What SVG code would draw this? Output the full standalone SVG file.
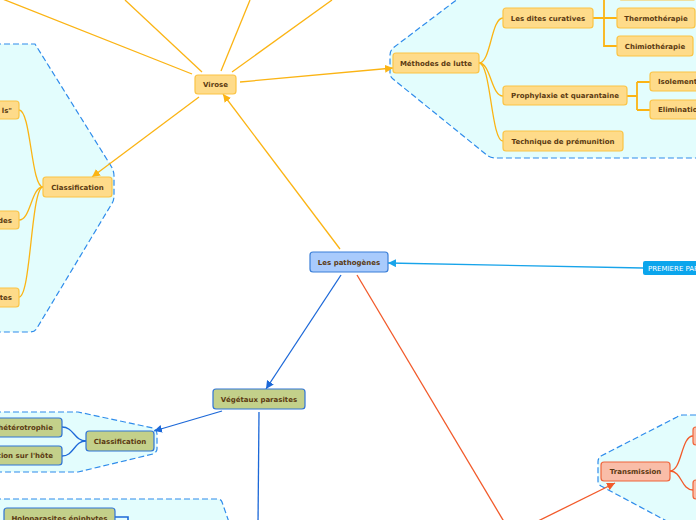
<svg xmlns="http://www.w3.org/2000/svg" width="696" height="520" viewBox="0 0 696 520">
<defs>
<marker id="aO" markerUnits="userSpaceOnUse" markerWidth="10" markerHeight="10" refX="8" refY="4" orient="auto"><path d="M0,0 L8,4 L0,8 Z" fill="#fbb414"/></marker>
<marker id="aB" markerUnits="userSpaceOnUse" markerWidth="10" markerHeight="10" refX="8" refY="4" orient="auto"><path d="M0,0 L8,4 L0,8 Z" fill="#1c68d8"/></marker>
<marker id="aL" markerUnits="userSpaceOnUse" markerWidth="10" markerHeight="10" refX="8" refY="4" orient="auto"><path d="M0,0 L8,4 L0,8 Z" fill="#18a4ea"/></marker>
<marker id="aR" markerUnits="userSpaceOnUse" markerWidth="10" markerHeight="10" refX="8" refY="4" orient="auto"><path d="M0,0 L8,4 L0,8 Z" fill="#f25a2a"/></marker>
</defs>
<style>
.bd{fill:#e3fdfd;stroke:#2f8ceb;stroke-width:1.2;stroke-dasharray:6,3}
.o rect{fill:#fedb8a;stroke:#fbc445;stroke-width:1.2}
.g rect{fill:#c3d08a;stroke:#2f74d6;stroke-width:1.2}
.r rect{fill:#f9bda8;stroke:#f0643a;stroke-width:1.2}
.b rect{fill:#a9cbfc;stroke:#3a7fd8;stroke-width:1.2}
text{font-family:"DejaVu Sans","Verdana",sans-serif;font-size:7px;font-weight:bold;fill:#5b3a12}
.c text{text-anchor:middle}
.e text{text-anchor:end}
.co{fill:none;stroke:#fbb414;stroke-width:1.3}
.cb{fill:none;stroke:#1c68d8;stroke-width:1.3}
.cr{fill:none;stroke:#f25a2a;stroke-width:1.3}
.cl{fill:none;stroke:#18a4ea;stroke-width:1.3}
</style>
<rect width="696" height="520" fill="#ffffff"/>
<g id="boundaries">
<path class="bd" d="M-5,44 L35,44 L111,166 Q114,171 114,176 L114,196 Q114,201 111,205 L37,328 Q35,332 30,332 L-5,332 Z"/>
<path class="bd" d="M463,-5 L393,48 Q390,51 390,55 L390,73 Q390,77 393,79 L488,156 Q491,158 495,158 L705,158 L705,-5 Z"/>
<path class="bd" d="M-5,412 L78,412 L153,428 Q157,430 157,434 L157,449 Q157,452 153,454 L78,472 L-5,472 Z"/>
<path class="bd" d="M-5,499 L217,499 Q221,499 222,502 L230,525 L-5,525 Z"/>
<path class="bd" d="M705,415 L683,415 Q680,415 677,417 L601,456 Q598,458 598,462 L598,481 Q598,484 601,486 L676,526 L705,526 Z"/>
</g>
<g id="connectors">
<line class="co" x1="0" y1="-2" x2="192" y2="74"/>
<line class="co" x1="125" y1="0" x2="202" y2="72"/>
<line class="co" x1="250" y1="0" x2="221" y2="71"/>
<line class="co" x1="332" y1="0" x2="232" y2="72"/>
<line class="co" x1="240" y1="82" x2="393" y2="68" marker-end="url(#aO)"/>
<line class="co" x1="199" y1="97" x2="92" y2="177" marker-end="url(#aO)"/>
<line class="co" x1="340" y1="249" x2="223" y2="94" marker-end="url(#aO)"/>
<path class="co" d="M43,187 C31,187 31,110 19,110"/>
<path class="co" d="M43,187 C31,187 31,220 19,220"/>
<path class="co" d="M43,187 C31,187 31,297 19,297"/>
<path class="co" d="M479,63 C491,63 491,18 503,18"/>
<path class="co" d="M479,63 C491,63 491,96 503,96"/>
<path class="co" d="M479,63 C491,63 491,141 503,141"/>
<path class="co" style="stroke-width:1.8" d="M593,18 L604,18 M604,-10 L604,46 L617,46 M604,18 L617,18 M604,-10 L619,-10"/>
<path class="co" style="stroke-width:1.8" d="M627,96 L637,96 M637,82 L637,110 M637,82 L650,82 M637,110 L650,110"/>
<line class="cl" x1="643" y1="268" x2="388" y2="263" marker-end="url(#aL)"/>
<line class="cb" x1="341" y1="275" x2="266" y2="389" marker-end="url(#aB)"/>
<line class="cb" x1="222" y1="411" x2="154" y2="431" marker-end="url(#aB)"/>
<line class="cb" x1="259" y1="412" x2="258" y2="525"/>
<path class="cb" d="M86,441 C74,441 74,427 62,427"/>
<path class="cb" d="M86,441 C74,441 74,456 62,456"/>
<path class="cb" style="stroke-width:1.6" d="M115,517 L128,517 L128,525"/>
<line class="cr" x1="357" y1="275" x2="506" y2="525"/>
<line class="cr" x1="530" y1="525" x2="615" y2="483" marker-end="url(#aR)"/>
<path class="cr" d="M670,471 C682,471 681,436 693,436"/>
<path class="cr" d="M670,471 C682,471 681,490 693,490"/>
</g>
<g id="n-virose" class="o c"><rect x="195" y="75" width="41" height="19" rx="3"/><text x="215.5" y="87">Virose</text></g>
<g id="n-methodes" class="o c"><rect x="393" y="53" width="86" height="20" rx="3"/><text x="436" y="65.5">Méthodes de lutte</text></g>
<g id="n-curatives" class="o c"><rect x="503" y="8" width="90" height="20" rx="3"/><text x="548" y="20.5">Les dites curatives</text></g>
<g id="n-top" class="o c"><rect x="619" y="-20" width="77" height="20" rx="3"/></g>
<g id="n-thermo" class="o c"><rect x="617" y="8" width="78" height="20" rx="3"/><text x="656" y="20.5">Thermothérapie</text></g>
<g id="n-chimio" class="o c"><rect x="617" y="36" width="76" height="20" rx="3"/><text x="655" y="48.5">Chimiothérapie</text></g>
<g id="n-prophylaxie" class="o c"><rect x="503" y="86" width="124" height="19" rx="3"/><text x="565" y="98">Prophylaxie et quarantaine</text></g>
<g id="n-technique" class="o c"><rect x="503" y="131" width="120" height="20" rx="3"/><text x="563" y="143.5">Technique de prémunition</text></g>
<g id="n-isolement" class="o"><rect x="650" y="72" width="60" height="19" rx="3"/><text x="658" y="84">Isolement</text></g>
<g id="n-elimination" class="o"><rect x="650" y="100" width="60" height="19" rx="3"/><text x="658" y="112">Elimination</text></g>
<g id="n-classif-v" class="o c"><rect x="43" y="177" width="69" height="20" rx="3"/><text x="77.5" y="189.5">Classification</text></g>
<g id="n-v1" class="o e"><rect x="-40" y="101" width="59" height="18" rx="3"/><text x="12" y="112.5">ls"</text></g>
<g id="n-v2" class="o e"><rect x="-40" y="211" width="59" height="18" rx="3"/><text x="12" y="222.5">des</text></g>
<g id="n-v3" class="o e"><rect x="-40" y="288" width="59" height="19" rx="3"/><text x="12" y="300">tes</text></g>
<g id="n-pathogenes" class="b c"><rect x="310" y="252" width="78" height="20" rx="3"/><text x="349" y="264.5">Les pathogènes</text></g>
<g id="n-premiere"><rect x="643" y="261" width="70" height="14" rx="2" fill="#0ba5ec"/><text x="648" y="270.5" style="fill:#ffffff;font-weight:normal">PREMIERE PARTIE</text></g>
<g id="n-vegetaux" class="g c"><rect x="213" y="389" width="92" height="20" rx="3"/><text x="259" y="401.5">Végétaux parasites</text></g>
<g id="n-classif-g" class="g c"><rect x="86" y="431" width="68" height="20" rx="3"/><text x="120" y="443.5">Classification</text></g>
<g id="n-g1" class="g e"><rect x="-40" y="418" width="102" height="19" rx="3"/><text x="53" y="430">hétérotrophie</text></g>
<g id="n-g2" class="g e"><rect x="-40" y="446" width="102" height="19" rx="3"/><text x="53" y="458">tion sur l'hôte</text></g>
<g id="n-holo" class="g c"><rect x="4" y="508" width="111" height="20" rx="3"/><text x="59.5" y="520.5">Holoparasites épiphytes</text></g>
<g id="n-transmission" class="r c"><rect x="601" y="462" width="69" height="19" rx="3"/><text x="635.5" y="474">Transmission</text></g>
<g id="n-t1" class="r"><rect x="693" y="427" width="20" height="18" rx="3"/></g>
<g id="n-t2" class="r"><rect x="693" y="480" width="20" height="19" rx="3"/></g>
</svg>
